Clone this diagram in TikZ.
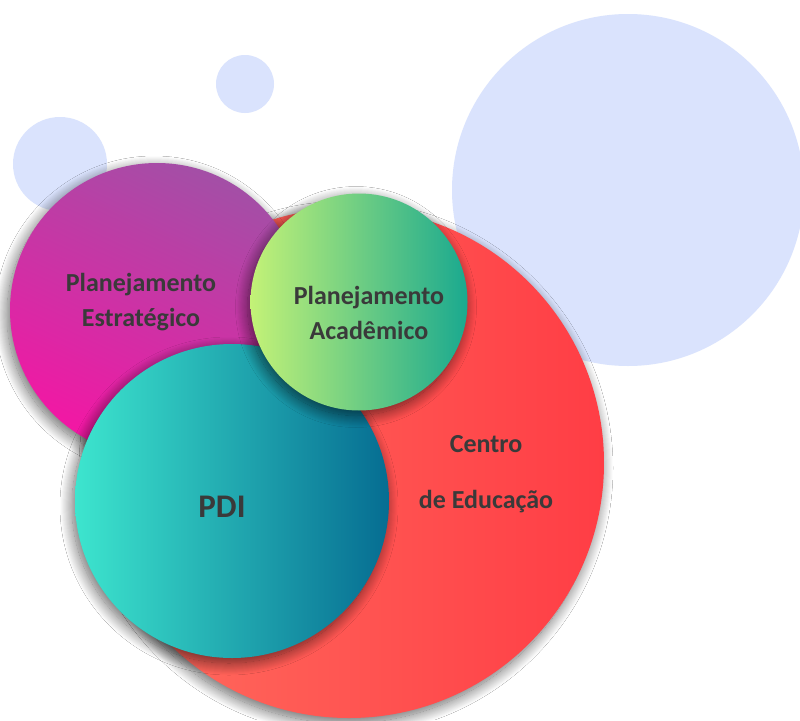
\documentclass[tikz,border=0pt]{standalone}
\usepackage{fontspec}
\setmainfont{Carlito}
\usepackage{xcolor}
\usetikzlibrary{shadows.blur}
\definecolor{bubble}{HTML}{DAE3FD}
\definecolor{plumtop}{HTML}{A34FA6}
\definecolor{plumbot}{HTML}{F317A4}
\definecolor{limeleft}{HTML}{C3F277}
\definecolor{limeright}{HTML}{1AA98F}
\definecolor{tealleft}{HTML}{3DE5CE}
\definecolor{tealright}{HTML}{066D92}
\definecolor{coralleft}{HTML}{FF6E5F}
\definecolor{coralright}{HTML}{FF3D45}
\definecolor{ink}{HTML}{3A3A3A}

\begin{document}
\begin{tikzpicture}[
    x=1pt, y=-1pt,
    font=\bfseries,
    bubble/.style={circle, fill=bubble, inner sep=0pt, minimum size=#1},
    disc/.style={circle, inner sep=0pt, minimum size=#1,
                 blur shadow={shadow xshift=-3pt, shadow yshift=-5pt,
                              shadow blur radius=12pt, shadow blur steps=24,
                              shadow opacity=60}},
    lbl/.style={text=ink, align=center, inner sep=0pt,
                font=\fontsize{26}{35}\selectfont\bfseries},
  ]
    \useasboundingbox[fill=white] (0,0) rectangle (800,720);

    % light circles behind
    \node[bubble=352pt] (bigdot)   at (628,190) {};
    \node[bubble=58pt]  (topdot)   at (245,84)  {};
    \node[bubble=94pt]  (leftdot)  at (60,164)  {};

    % coloured discs
    \node[disc=510pt, left color=coralleft, right color=coralright] (centro) at (349,463) {};
    \node[disc=294pt, top color=plumtop, bottom color=plumbot, shading angle=-25] (estrat) at (157,310) {};
    \node[disc=314pt, left color=tealleft, right color=tealright] (pdi) at (232,501) {};
    \node[disc=217pt, left color=limeleft, right color=limeright] (academ) at (359,302) {};

    \node[lbl] (estratlbl) at (141,302) {Planejamento\\Estratégico};
    \node[lbl] (academlbl) at (369,313) {Planejamento\\Acadêmico};
    \node[lbl, font=\fontsize{33}{40}\selectfont\bfseries] (pdilbl) at (222,507) {PDI};
    \node[lbl, font=\fontsize{26}{56}\selectfont\bfseries] (centrolbl) at (486,474) {Centro\\de Educação};
\end{tikzpicture}
\end{document}
